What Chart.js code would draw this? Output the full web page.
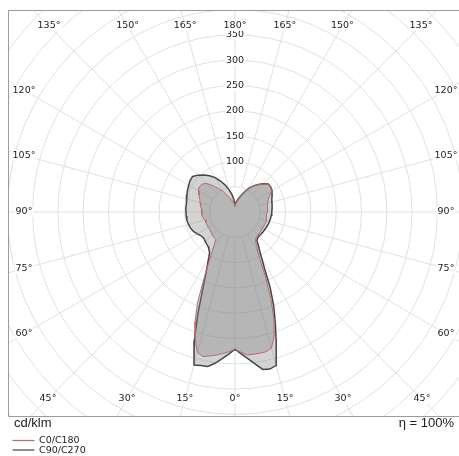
<!DOCTYPE html>
<html>
<head>
<meta charset="utf-8">
<title>Lichtstärkeverteilung</title>
<script src="https://cdn.jsdelivr.net/npm/chart.js@4.4.0/dist/chart.umd.min.js"></script>
<style>
  html, body { margin: 0; padding: 0; background: #fff; }
  #wrap { width: 459px; height: 456px; }
</style>
</head>
<body>
<div id="wrap"><canvas id="polar" width="459" height="456"></canvas></div>
<script>
// gamma angles in degrees, 0 = straight down, 180 = straight up
const gammas = [0, 2.5, 5, 7.5, 10, 12.5, 15, 17.5, 20, 22.5, 25, 27.5, 30, 32.5, 35, 37.5, 40,
  45, 50, 55, 60, 65, 70, 75, 80, 85, 90, 95, 100, 105, 110, 115, 120, 125, 130, 135, 140, 145,
  150, 155, 160, 165, 170, 175, 180];

// intensities in cd/klm, one half-plane per array
const c0 = [272, 277.5, 283.5, 283.5, 283.3, 283, 278.5, 257, 225, 185, 144.5, 109, 89.3, 80.6, 70, 67, 65.7,
  64.5, 64, 63.5, 63, 63.5, 64, 64.5, 63, 62.5, 63.5, 64.5, 65.5, 66.5, 70, 75, 84, 87, 85, 78, 70, 62,
  53, 42, 33, 26, 21, 17, 14];
const c180 = [272, 276.5, 281, 285.3, 289, 292.5, 287.5, 262, 231, 193, 144.5, 112.5, 90.4, 76.4, 66.6, 66, 65,
  63.7, 62, 61, 61, 61, 61, 61.3, 64.5, 65.5, 66, 66.5, 69, 71.5, 74, 78.5, 83.5, 86.3, 85.5, 80, 68, 56,
  47, 36, 28.5, 23, 19, 16, 14];
const c90 = [271, 280.5, 291, 302.8, 316, 318, 314, 271, 233, 199.5, 164.4, 127, 106, 90.4, 80.8, 71.2, 68.8,
  67.2, 67.5, 68, 68.5, 69, 70, 70.7, 71.5, 72, 72.7, 73.5, 74.5, 75.7, 77.5, 81, 84.5, 86.2, 86, 79, 71, 63,
  54, 43, 34, 27, 22, 18, 14];
const c270 = [271, 281, 291, 301.6, 310, 311, 313, 268, 215, 168, 138, 118, 103, 93.6, 90, 86.6, 85.3,
  83, 80.4, 81.9, 86.3, 90.6, 93.5, 95, 96.5, 96.8, 97, 97.5, 98, 98.5, 101, 103.5, 105.6, 108.4, 109.3, 103, 95.2, 87.3,
  78.4, 67.5, 56.5, 45.8, 35.2, 24.6, 14];

const planeLabels = ['C0/C180', 'C90/C270'];
const ringTicks = [100, 150, 200, 250, 300, 350];
const gridRings = [50, 100, 150, 200, 250, 300, 350, 400, 450, 500, 550, 600];
const angleTicks = [0, 15, 30, 45, 60, 75, 90, 105, 120, 135, 150, 165, 180];

const unitText = 'cd/klm';
const effText = 'η = 100%';

// closed outline: right half-plane bottom->top, then left half-plane top->bottom
function outline(right, left) {
  const pts = [];
  const rad = g => g * Math.PI / 180;
  for (let i = 0; i < gammas.length; i++) {
    pts.push({ x: right[i] * Math.sin(rad(gammas[i])), y: -right[i] * Math.cos(rad(gammas[i])) });
  }
  for (let i = gammas.length - 1; i >= 0; i--) {
    pts.push({ x: -left[i] * Math.sin(rad(gammas[i])), y: -left[i] * Math.cos(rad(gammas[i])) });
  }
  return pts;
}

const smallFont = '9.5px "DejaVu Sans", sans-serif';
const textColor = '#222';

function labelBox(ctx, text, x, y) {
  const w = ctx.measureText(text).width;
  ctx.fillStyle = '#fff';
  ctx.fillRect(x - w / 2 - 1, y - 5, w + 2, 10);
  ctx.fillStyle = textColor;
  ctx.fillText(text, x, y);
}

// rings and spokes under the curves
const polarGrid = {
  id: 'polarGrid',
  beforeDatasetsDraw(chart) {
    const { ctx, chartArea: a, scales: { x, y } } = chart;
    const cx = x.getPixelForValue(0), cy = y.getPixelForValue(0);
    const unit = x.getPixelForValue(1) - cx;
    ctx.save();
    ctx.beginPath();
    ctx.rect(a.left, a.top, a.right - a.left, a.bottom - a.top);
    ctx.clip();
    ctx.strokeStyle = '#e0e0e0';
    ctx.lineWidth = 1;
    gridRings.forEach(r => {
      ctx.beginPath();
      ctx.arc(cx, cy, r * unit, 0, Math.PI * 2);
      ctx.stroke();
    });
    for (let g = 0; g < 360; g += 15) {
      const t = g * Math.PI / 180;
      const sx = Math.sin(t), sy = Math.cos(t);
      ctx.beginPath();
      ctx.moveTo(cx + sx * 50 * unit, cy + sy * 50 * unit);
      ctx.lineTo(cx + sx * 800 * unit, cy + sy * 800 * unit);
      ctx.stroke();
    }
    ctx.restore();
  }
};

// tick labels, frame, units and legend
const polarDecor = {
  id: 'polarDecor',
  afterDatasetsDraw(chart) {
    const { ctx, chartArea: a, scales: { x, y } } = chart;
    const cx = x.getPixelForValue(0), cy = y.getPixelForValue(0);
    const unit = x.getPixelForValue(1) - cx;
    ctx.save();
    ctx.font = smallFont;
    ctx.textAlign = 'center';
    ctx.textBaseline = 'middle';

    ringTicks.forEach(v => labelBox(ctx, String(v), cx, cy - v * unit));

    // angle labels sit where each spoke meets an inset rectangle
    const inX = 211, inTop = 186, inBottom = 187;
    angleTicks.forEach(g => {
      const sides = (g === 0 || g === 180) ? [1] : [-1, 1];
      sides.forEach(s => {
        const t = g * Math.PI / 180;
        const dx = s * Math.sin(t), dy = Math.cos(t);
        let k = Infinity;
        if (Math.abs(dx) > 1e-6) k = Math.min(k, inX / Math.abs(dx));
        if (dy > 1e-6) k = Math.min(k, inBottom / dy);
        if (dy < -1e-6) k = Math.min(k, inTop / -dy);
        labelBox(ctx, g + '°', cx + dx * k, cy + dy * k);
      });
    });

    // frame
    ctx.strokeStyle = '#9c9c9c';
    ctx.lineWidth = 1;
    ctx.beginPath();
    ctx.moveTo(a.right, a.top + 0.5);
    ctx.lineTo(a.left + 0.5, a.top + 0.5);
    ctx.lineTo(a.left + 0.5, a.bottom + 0.5);
    ctx.lineTo(a.right, a.bottom + 0.5);
    ctx.stroke();

    // units and efficiency
    ctx.font = '13px "Liberation Sans", Arial, sans-serif';
    ctx.fillStyle = textColor;
    ctx.textBaseline = 'alphabetic';
    ctx.textAlign = 'left';
    ctx.fillText(unitText, a.left + 6, a.bottom + 11);
    ctx.textAlign = 'right';
    ctx.fillText(effText, a.right - 5, a.bottom + 11);

    // legend
    ctx.font = smallFont;
    ctx.textAlign = 'left';
    ctx.textBaseline = 'middle';
    chart.data.datasets.forEach((ds, i) => {
      const ly = a.bottom + 24.5 + i * 9.5;
      ctx.strokeStyle = ds.borderColor;
      ctx.lineWidth = 1.2;
      ctx.beginPath();
      ctx.moveTo(12.5, ly);
      ctx.lineTo(34.5, ly);
      ctx.stroke();
      ctx.fillStyle = textColor;
      ctx.fillText(ds.label, 39, ly + 0.5);
    });
    ctx.restore();
  }
};

new Chart(document.getElementById('polar'), {
  type: 'scatter',
  data: {
    datasets: [
      {
        label: planeLabels[0],
        data: outline(c0, c180),
        showLine: true,
        borderColor: '#b86a6c',
        borderWidth: 1,
        backgroundColor: 'rgba(128,128,128,0.35)',
        fill: 'shape',
        pointRadius: 0,
        tension: 0
      },
      {
        label: planeLabels[1],
        data: outline(c90, c270),
        showLine: true,
        borderColor: '#474747',
        borderWidth: 1.5,
        backgroundColor: 'rgba(128,128,128,0.35)',
        fill: 'shape',
        pointRadius: 0,
        tension: 0
      }
    ]
  },
  options: {
    responsive: false,
    animation: false,
    layout: { padding: { left: 8, top: 10, right: 0, bottom: 40 } },
    scales: {
      x: { type: 'linear', display: false, min: -448.6, max: 442.7 },
      y: { type: 'linear', display: false, min: -403.2, max: 399.2 }
    },
    plugins: {
      legend: { display: false },
      tooltip: { enabled: false }
    }
  },
  plugins: [polarGrid, polarDecor]
});
</script>
</body>
</html>
